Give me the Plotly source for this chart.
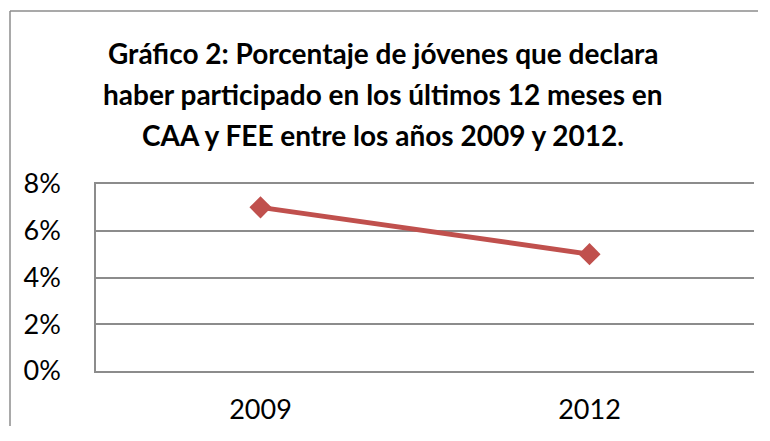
import plotly.graph_objects as go

years = ["2009", "2012"]
values = [0.07, 0.05]
y_ticks = [0, 0.02, 0.04, 0.06, 0.08]
y_tick_labels = ["0%", "2%", "4%", "6%", "8%"]
title_lines = [
    "Gráfico 2: Porcentaje de jóvenes que declara",
    "haber participado en los últimos 12 meses en",
    "CAA y FEE entre los años 2009 y 2012.",
]

# The page places the figure 8px in from the top-left corner (default body margin);
# keep the figure and everything drawn inside the window so no scrollbar appears.
OFF = 8
W, H = 750, 418
L, T = 96 - OFF, 184 - OFF
R = W - (754 - OFF)
B = H - (371 - OFF)
pw, ph = W - L - R, H - T - B

def px_x(px):
    return (px - OFF - L) / pw

def px_y(py):
    return (H - B - (py - OFF)) / ph

fig = go.Figure()
fig.add_trace(go.Scatter(
    x=years, y=values, mode="lines+markers",
    line=dict(color="#C0504D", width=5),
    marker=dict(symbol="diamond", size=17, color="#C0504D"),
    showlegend=False, cliponaxis=False,
))

annotations = []
for i, line in enumerate(title_lines):
    annotations.append(dict(
        text=line, xref="paper", yref="paper",
        x=px_x(383), y=px_y(53 + i * 41),
        xanchor="center", yanchor="middle", showarrow=False,
        font=dict(family="Lato", size=28, color="#000000", weight="bold"),
    ))

frame = dict(color="#8C8C8C", width=1.5)
fig.update_layout(
    width=W, height=H,
    margin=dict(l=L, r=R, t=T, b=B),
    paper_bgcolor="white", plot_bgcolor="white",
    annotations=annotations,
    shapes=[
        dict(type="line", xref="paper", yref="paper",
             x0=px_x(10), y0=px_y(11), x1=px_x(10), y1=px_y(438), line=frame),
        dict(type="line", xref="paper", yref="paper",
             x0=px_x(10), y0=px_y(11), x1=px_x(767), y1=px_y(11), line=frame),
    ],
    xaxis=dict(
        type="category", range=[-0.5, 1.5], showgrid=False,
        showline=True, mirror=True, linecolor="#8C8C8C", linewidth=1.5,
        zeroline=False, ticks="", automargin=False,
        tickfont=dict(family="Lato", size=27, color="#000000"),
        ticklabelstandoff=14,
    ),
    yaxis=dict(
        range=[0, 0.08], tickvals=y_ticks, ticktext=y_tick_labels,
        showgrid=True, gridcolor="#8C8C8C", gridwidth=1.5,
        showline=True, linecolor="#8C8C8C", linewidth=1.5,
        zeroline=False, ticks="", automargin=False,
        tickfont=dict(family="Lato", size=27, color="#000000"),
        ticklabelstandoff=28,
    ),
)
fig.write_html("out.html")
